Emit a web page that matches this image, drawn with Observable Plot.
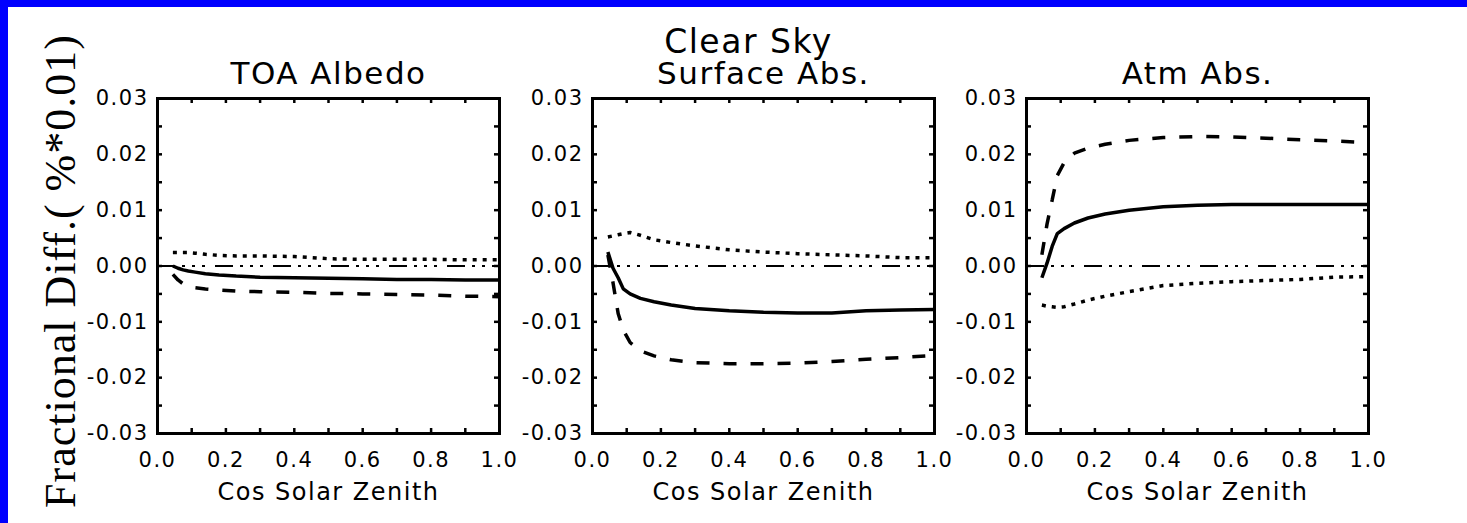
<!DOCTYPE html>
<html>
<head>
<meta charset="utf-8">
<script src="https://cdn.jsdelivr.net/npm/d3@7"></script>
<script src="https://cdn.jsdelivr.net/npm/@observablehq/plot@0.6"></script>
<style>
  html, body { margin: 0; padding: 0; background: #fff; }
  #fig { position: relative; width: 1467px; height: 523px; overflow: hidden; background: #fff; }
  #fig .panel { position: absolute; top: 0; }
  #fig .edge { position: absolute; background: #0000ff; }
  #ytitle { position: absolute; left: 0; top: 0; }
</style>
</head>
<body>
<div id="fig">
  <div class="edge" style="left:0;top:0;width:8px;height:523px"></div>
  <div class="edge" style="left:0;top:0;width:1467px;height:7px"></div>
  <svg id="ytitle" width="110" height="523">
    <text transform="translate(75,271) rotate(-90)" text-anchor="middle"
          font-family="Liberation Serif, Times New Roman, serif" font-size="44" letter-spacing="1"
          fill="#000">Fractional Diff.( %*0.01)</text>
  </svg>
</div>
<script>
// Cosine of the solar zenith angle at which the differences were computed
const mu = [0.045, 0.06, 0.075, 0.09, 0.11, 0.14, 0.18, 0.23, 0.3, 0.4, 0.5, 0.6, 0.7, 0.8, 0.9, 1.0];

// TOA albedo
const toaSolid  = [0.0000, -0.0004, -0.0007, -0.0009, -0.0011, -0.0014, -0.0016, -0.0018, -0.0020, -0.0021, -0.0022, -0.0023, -0.0024, -0.0024, -0.0025, -0.0025];
const toaDashed = [-0.0015, -0.0025, -0.0032, -0.0036, -0.0039, -0.0041, -0.0043, -0.0045, -0.0046, -0.0047, -0.0049, -0.0050, -0.0051, -0.0052, -0.0054, -0.0055];
const toaDotted = [0.0024, 0.0024, 0.0024, 0.0024, 0.0023, 0.0021, 0.0019, 0.0018, 0.0018, 0.0017, 0.0013, 0.0012, 0.0012, 0.0012, 0.0011, 0.0011];

// Surface absorption
const sfcSolid  = [0.0025, -0.0004, -0.0021, -0.0041, -0.0050, -0.0058, -0.0064, -0.0070, -0.0076, -0.0080, -0.0083, -0.0084, -0.0084, -0.0080, -0.0079, -0.0078];
const sfcDashed = [0.0020, -0.0030, -0.0085, -0.0115, -0.0137, -0.0152, -0.0161, -0.0168, -0.0173, -0.0175, -0.0175, -0.0174, -0.0171, -0.0167, -0.0164, -0.0160];
const sfcDotted = [0.0052, 0.0054, 0.0056, 0.0058, 0.0060, 0.0055, 0.0047, 0.0042, 0.0036, 0.0029, 0.0025, 0.0022, 0.0020, 0.0018, 0.0015, 0.0015];

// Atmospheric absorption
const atmSolid  = [-0.0021, 0.0005, 0.0035, 0.0058, 0.0067, 0.0077, 0.0086, 0.0093, 0.0100, 0.0106, 0.0109, 0.0110, 0.0110, 0.0110, 0.0110, 0.0110];
const atmDashed = [0.0020, 0.0075, 0.0118, 0.0162, 0.0185, 0.0202, 0.0211, 0.0218, 0.0225, 0.0230, 0.0232, 0.0231, 0.0229, 0.0226, 0.0224, 0.0221];
const atmDotted = [-0.0070, -0.0072, -0.0073, -0.0074, -0.0073, -0.0068, -0.0061, -0.0054, -0.0046, -0.0035, -0.0031, -0.0028, -0.0026, -0.0024, -0.0020, -0.0019];

const panelTitles = ["TOA Albedo", "Surface Abs.", "Atm Abs."];
const xLabel = "Cos Solar Zenith";
const figureTitle = "Clear Sky";

// Tick values
const xTickLabels = [0, 0.2, 0.4, 0.6, 0.8, 1.0];
const yTickLabels = [0.03, 0.02, 0.01, 0, -0.01, -0.02, -0.03];
const xMinorTicks = [0, 0.1, 0.2, 0.3, 0.4, 0.5, 0.6, 0.7, 0.8, 0.9, 1.0];
const yMinorTicks = [0.03, 0.025, 0.02, 0.015, 0.01, 0.005, 0, -0.005, -0.01, -0.015, -0.02, -0.025, -0.03];

const panels = [
  {title: panelTitles[0], solid: toaSolid, dashed: toaDashed, dotted: toaDotted, left: 90},
  {title: panelTitles[1], solid: sfcSolid, dashed: sfcDashed, dotted: sfcDotted, left: 525, heading: figureTitle},
  {title: panelTitles[2], solid: atmSolid, dashed: atmDashed, dotted: atmDotted, left: 959}
];

const W = 429, H = 523, ML = 67, MR = 20, MT = 98, MB = 90;
const FW = W - ML - MR, FH = H - MT - MB, TICK = 5;

const rows = vals => mu.map((m, i) => ({mu: m, v: vals[i]}));
const lineStyle = {x: "mu", y: "v", stroke: "#000", strokeWidth: 3.5, strokeLinecap: "butt", strokeLinejoin: "miter"};

const fig = document.getElementById("fig");
for (const p of panels) {
  const marks = [
    Plot.ruleY([0], {stroke: "#000", strokeWidth: 1.8, strokeDasharray: "18,7,3,7,3,7,3,10"}),
    Plot.line(rows(p.dotted), {...lineStyle, strokeDasharray: "4,6"}),
    Plot.line(rows(p.dashed), {...lineStyle, strokeDasharray: "13,14"}),
    Plot.line(rows(p.solid), lineStyle),
    Plot.ruleX(xMinorTicks, {x: d => d, insetBottom: FH - TICK, stroke: "#000", strokeWidth: 2.5}),
    Plot.ruleX(xMinorTicks, {x: d => d, insetTop: FH - TICK, stroke: "#000", strokeWidth: 2.5}),
    Plot.ruleY(yMinorTicks, {y: d => d, insetRight: FW - TICK, stroke: "#000", strokeWidth: 2.5}),
    Plot.ruleY(yMinorTicks, {y: d => d, insetLeft: FW - TICK, stroke: "#000", strokeWidth: 2.5}),
    Plot.frame({stroke: "#000", strokeWidth: 3}),
    Plot.axisX(xTickLabels, {tickSize: 0, tickPadding: 19, tickFormat: d => d.toFixed(1), label: null}),
    Plot.axisY(yTickLabels, {tickSize: 0, tickPadding: 9, tickFormat: d => d.toFixed(2), label: null}),
    Plot.text([p.title], {frameAnchor: "top", dy: -15, lineAnchor: "bottom", fontSize: 31, fill: "#000"}),
    Plot.text([xLabel], {frameAnchor: "bottom", dy: 66, lineAnchor: "bottom", fontSize: 24, fill: "#000"})
  ];
  if (p.heading) {
    marks.push(Plot.text([p.heading], {frameAnchor: "top", dy: -46, dx: -15, lineAnchor: "bottom", fontSize: 33, fill: "#000"}));
  }
  const svg = Plot.plot({
    width: W, height: H,
    marginLeft: ML, marginRight: MR, marginTop: MT, marginBottom: MB,
    x: {domain: [0, 1]},
    y: {domain: [-0.03, 0.03]},
    style: {fontFamily: "DejaVu Sans, sans-serif", fontSize: "21px", letterSpacing: "1.5px", color: "#000", background: "transparent", overflow: "visible"},
    marks
  });
  svg.classList.add("panel");
  svg.style.left = p.left + "px";
  fig.appendChild(svg);
}
</script>
</body>
</html>
